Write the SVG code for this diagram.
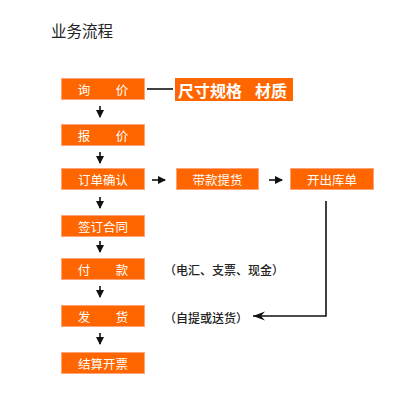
<svg xmlns="http://www.w3.org/2000/svg" width="417" height="403" viewBox="0 0 417 403">
<style>
.box{fill:#FF6600;stroke:#FFA477;stroke-width:1}
.bt{font-family:"Noto Sans CJK SC","Noto Sans",sans-serif;font-size:12.5px;fill:#fff;text-anchor:middle;dominant-baseline:central}
.note{font-family:"Noto Sans CJK SC","Noto Sans",sans-serif;font-size:12px;font-weight:500;fill:#222;dominant-baseline:central}
.sp{font-family:"Noto Sans CJK SC",sans-serif;font-size:16px;font-weight:bold;fill:#fff;dominant-baseline:central}
.ln{stroke:#111;stroke-width:1.6;fill:none}
</style>
<defs>
<marker id="ah" markerWidth="9" markerHeight="9" refX="7" refY="4.5" orient="auto" markerUnits="userSpaceOnUse">
<path d="M0,0.5 L8,4.5 L0,8.5 Z" fill="#111"/>
</marker>
<marker id="ah2" markerWidth="14" markerHeight="10" refX="12" refY="5" orient="auto" markerUnits="userSpaceOnUse">
<path d="M0,0.5 L12,5 L0,9.5 L4,5 Z" fill="#111"/>
</marker>
</defs>
<rect width="417" height="403" fill="#fff"/>
<text x="51" y="30" font-family="'Noto Sans CJK SC','Noto Sans',sans-serif" font-size="15.5" fill="#222" dominant-baseline="central">业务流程</text>

<g id="n1"><rect class="box" x="61.5" y="78.5" width="83" height="21"/><text class="bt" x="84" y="89">询</text><text class="bt" x="122" y="89">价</text></g>
<g id="spec"><rect x="175" y="78" width="118" height="23" fill="#FF6600"/><text class="sp" x="178" y="89.5" textLength="64" lengthAdjust="spacing">尺寸规格</text><text class="sp" x="255" y="89.5" textLength="32" lengthAdjust="spacing">材质</text></g>
<g id="n2"><rect class="box" x="61.5" y="124.5" width="83" height="21"/><text class="bt" x="84" y="135">报</text><text class="bt" x="122" y="135">价</text></g>
<g id="n3"><rect class="box" x="61.5" y="168.5" width="83" height="21"/><text class="bt" x="103" y="179">订单确认</text></g>
<g id="n4"><rect class="box" x="176.5" y="168.5" width="82" height="21"/><text class="bt" x="217.5" y="179">带款提货</text></g>
<g id="n5"><rect class="box" x="290.5" y="168.5" width="83" height="21"/><text class="bt" x="332" y="179">开出库单</text></g>
<g id="n6"><rect class="box" x="61.5" y="215.5" width="83" height="21"/><text class="bt" x="103" y="226">签订合同</text></g>
<g id="n7"><rect class="box" x="61.5" y="258.5" width="83" height="21"/><text class="bt" x="84" y="269">付</text><text class="bt" x="122" y="269">款</text></g>
<g id="n8"><rect class="box" x="61.5" y="305.5" width="83" height="21"/><text class="bt" x="84" y="316">发</text><text class="bt" x="122" y="316">货</text></g>
<g id="n9"><rect class="box" x="61.5" y="352.5" width="83" height="21"/><text class="bt" x="103" y="363">结算开票</text></g>

<text class="note" x="164" y="269">（电汇、支票、现金）</text>
<text class="note" x="164" y="317">（自提或送货）</text>

<g id="connectors">
<line class="ln" x1="147" y1="89" x2="173" y2="89" stroke-width="2"/>
<line class="ln" x1="100" y1="106" x2="100" y2="117" marker-end="url(#ah)"/>
<line class="ln" x1="100" y1="152" x2="100" y2="163" marker-end="url(#ah)"/>
<line class="ln" x1="100" y1="197" x2="100" y2="208" marker-end="url(#ah)"/>
<line class="ln" x1="100" y1="241" x2="100" y2="252" marker-end="url(#ah)"/>
<line class="ln" x1="100" y1="286" x2="100" y2="297" marker-end="url(#ah)"/>
<line class="ln" x1="100" y1="333" x2="100" y2="344" marker-end="url(#ah)"/>
<line class="ln" x1="152" y1="180" x2="165" y2="180" marker-end="url(#ah)"/>
<line class="ln" x1="269" y1="180" x2="282" y2="180" marker-end="url(#ah)"/>
<polyline class="ln" points="326,201 326,316 253,316" stroke="#333" marker-end="url(#ah2)"/>
</g>
</svg>
